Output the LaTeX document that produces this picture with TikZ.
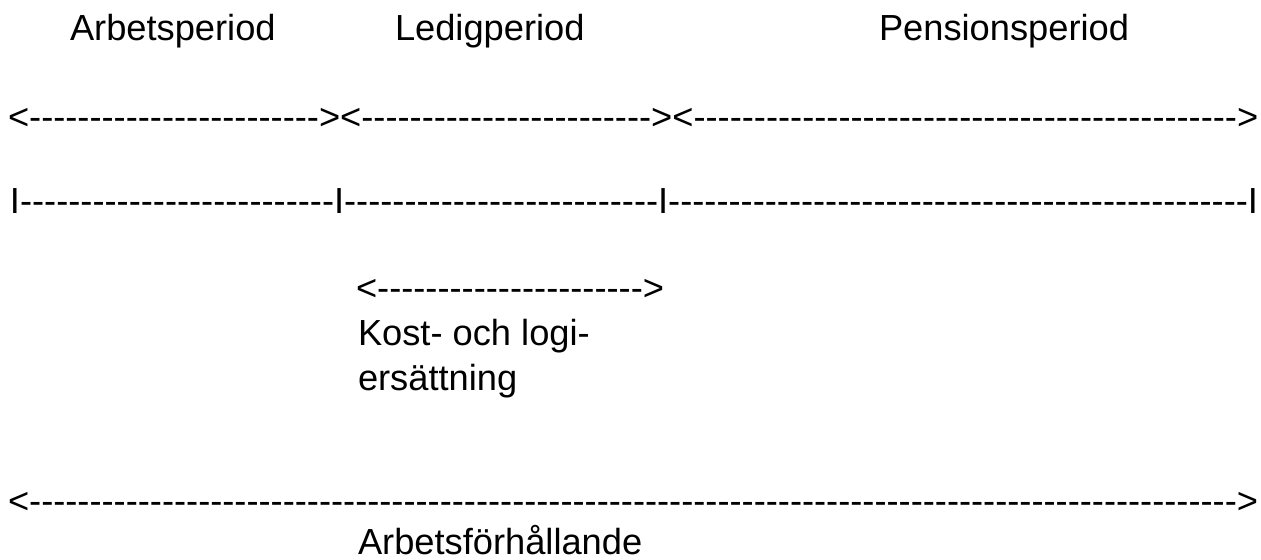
\documentclass[tikz,border=0pt]{standalone}
\usepackage{fontspec}
\setmainfont{Liberation Sans}[Ligatures=TeXOff]
\ExplSyntaxOn
\cs_new:Npn \myrep #1#2 { \prg_replicate:nn {#1} {#2} }
\ExplSyntaxOff
\begin{document}
\begin{tikzpicture}[x=0.75pt,y=-0.75pt,
  txt/.style={anchor=base west, inner sep=0pt, outer sep=0pt, font=\fontsize{27.2}{32}\selectfont}]
\useasboundingbox (0,0) rectangle (1261,560);
\node[txt] (arb) at (70,41) {Arbetsperiod};
\node[txt] (led) at (395,41) {Ledigperiod};
\node[txt] (pen) at (879,41) {Pensionsperiod};
\node[txt] (arrows) at (8,129) {<\myrep{24}{-}><\myrep{24}{-}><\myrep{45}{-}>};
\node[txt] (bars) at (10,213) {I\myrep{26}{-}I\myrep{26}{-}I\myrep{48}{-}I};
\node[txt] (kostarrow) at (356,300) {<\myrep{22}{-}>};
\node[txt] (kost1) at (358,345) {Kost- och logi-};
\node[txt] (kost2) at (358,390) {ersättning};
\node[txt] (allarrow) at (8,513) {<\myrep{100}{-}>};
\node[txt] (forh) at (358,554) {Arbetsförhållande};
\end{tikzpicture}
\end{document}
